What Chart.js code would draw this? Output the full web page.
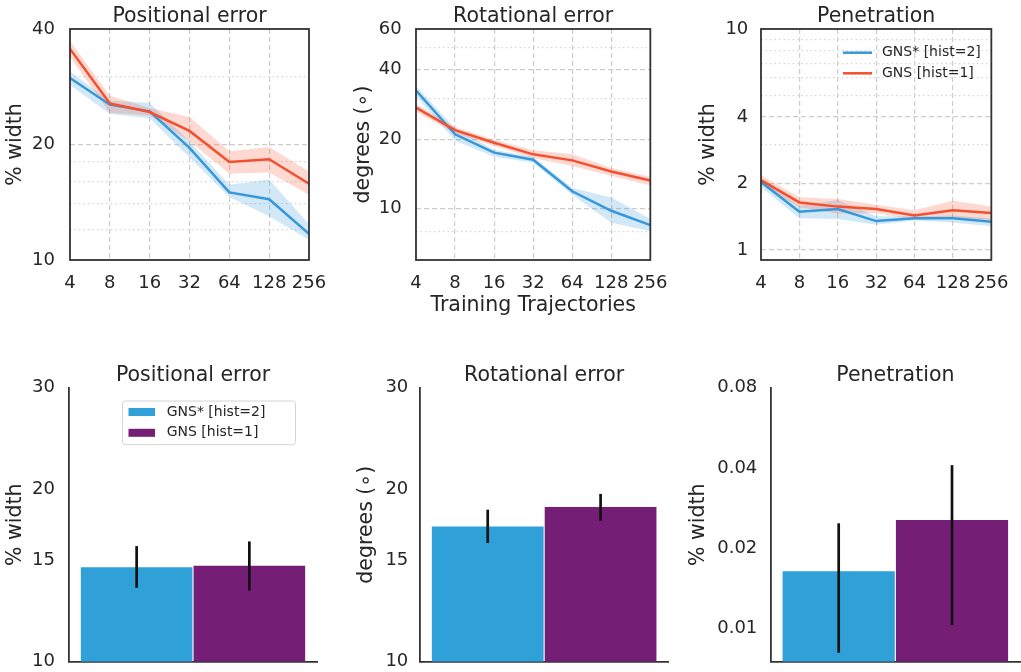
<!DOCTYPE html>
<html><head><meta charset="utf-8">
<script src="https://cdn.jsdelivr.net/npm/chart.js@4.4.1/dist/chart.umd.min.js"></script>
<style>
html,body{margin:0;padding:0;background:#fff;width:1021px;height:672px;overflow:hidden;position:relative}
canvas{position:absolute}
</style></head><body>
<canvas id="c1" width="340" height="320" style="left:0px;top:0px"></canvas>
<canvas id="c2" width="340" height="320" style="left:340px;top:0px"></canvas>
<canvas id="c3" width="341" height="320" style="left:680px;top:0px"></canvas>
<canvas id="c4" width="340" height="332" style="left:0px;top:340px"></canvas>
<canvas id="c5" width="340" height="332" style="left:340px;top:340px"></canvas>
<canvas id="c6" width="341" height="332" style="left:680px;top:340px"></canvas>
<script>
// ---------- data ----------
const trajectories = ['4', '8', '16', '32', '64', '128', '256'];
const models = ['GNS* [hist=2]', 'GNS [hist=1]'];

// Positional error (% width)
const posStar   = [29.8, 25.4, 24.4, 19.6, 15.0, 14.4, 11.7];
const posStarLo = [28.6, 24.0, 23.4, 18.5, 14.6, 13.0, 11.3];
const posStarHi = [31.0, 26.0, 25.7, 20.4, 15.7, 16.2, 12.4];
const posOne    = [35.5, 25.6, 24.3, 21.7, 18.0, 18.3, 15.8];
const posOneLo  = [33.8, 24.2, 23.8, 20.4, 16.8, 16.9, 14.8];
const posOneHi  = [37.2, 26.8, 24.9, 23.6, 19.2, 19.7, 17.0];

// Rotational error (degrees)
const rotStar   = [32.5, 21.0, 17.5, 16.3, 11.9, 9.8, 8.5];
const rotStarLo = [30.8, 19.7, 16.8, 15.8, 11.5, 8.7, 8.0];
const rotStarHi = [34.0, 22.3, 18.0, 16.8, 12.3, 11.2, 9.05];
const rotOne    = [27.4, 21.9, 19.3, 17.2, 16.2, 14.5, 13.25];
const rotOneLo  = [26.3, 21.2, 18.7, 16.6, 15.3, 13.9, 12.6];
const rotOneHi  = [28.4, 22.6, 19.9, 17.9, 17.2, 15.0, 13.75];

// Penetration (% width)
const penStar   = [2.03, 1.49, 1.53, 1.35, 1.39, 1.39, 1.34];
const penStarLo = [1.92, 1.39, 1.38, 1.30, 1.36, 1.33, 1.28];
const penStarHi = [2.09, 1.58, 1.68, 1.42, 1.42, 1.43, 1.39];
const penOne    = [2.07, 1.64, 1.57, 1.53, 1.43, 1.51, 1.47];
const penOneLo  = [1.97, 1.56, 1.46, 1.47, 1.37, 1.39, 1.37];
const penOneHi  = [2.18, 1.73, 1.70, 1.60, 1.51, 1.67, 1.57];

// Bar summaries (GNS*, GNS)
const posBar   = [14.6, 14.7];
const posBarLo = [13.45, 13.3];
const posBarHi = [15.9, 16.2];
const rotBar   = [17.2, 18.6];
const rotBarLo = [16.1, 17.6];
const rotBarHi = [18.4, 19.6];
const penBar   = [0.0164, 0.0255];
const penBarLo = [0.0081, 0.0103];
const penBarHi = [0.0248, 0.041];

// tick sets
const posTicks = [10, 20, 40];        const posMinor = [12, 14, 16, 18, 30];
const rotTicks = [10, 20, 40, 60];    const rotMinor = [8, 30, 50];
const penTicks = [1, 2, 4, 10];       const penMinor = [3, 5, 6, 7, 8, 9];
const barTicks = [10, 15, 20, 30];
const penBarTicks = [0.01, 0.02, 0.04, 0.08];

// ---------- styling ----------
const INK = '#262626';
const BLUE = '#3498db', RED = '#f4502f';
const BLUE_BAND = 'rgba(52,152,219,0.22)', RED_BAND = 'rgba(244,80,47,0.22)';
const BAR_BLUE = '#2fa1d8', BAR_PURPLE = '#741f75';
const FONT = "'DejaVu Sans', sans-serif";
const TICK_SIZE = 18;
Chart.defaults.font.family = FONT;
Chart.defaults.color = INK;

const framePlugin = {
  id: 'frame',
  afterDraw(chart) {
    const a = chart.chartArea, ctx = chart.ctx;
    ctx.save();
    ctx.strokeStyle = '#333';
    ctx.lineWidth = 1.8;
    ctx.strokeRect(a.left, a.top, a.right - a.left, a.bottom - a.top);
    ctx.restore();
  }
};

const legendPlugin = {
  id: 'customLegend',
  afterDraw(chart, args, o) {
    if (!o || !o.display) return;
    const ctx = chart.ctx;
    ctx.save();
    if (o.frame) {
      const f = o.frame;
      ctx.beginPath();
      ctx.roundRect(f.x, f.y, f.w, f.h, 3);
      ctx.fillStyle = 'rgba(255,255,255,0.85)';
      ctx.fill();
      ctx.strokeStyle = '#d4d4d4';
      ctx.lineWidth = 1;
      ctx.stroke();
    }
    o.items.forEach((it, i) => {
      const y = o.y0 + i * o.dy;
      if (o.kind === 'line') {
        ctx.strokeStyle = it.color;
        ctx.lineWidth = 2.5;
        ctx.beginPath();
        ctx.moveTo(o.x0, y);
        ctx.lineTo(o.x1, y);
        ctx.stroke();
      } else {
        ctx.fillStyle = it.color;
        ctx.fillRect(o.x0, y - 4, o.x1 - o.x0, 8);
      }
      ctx.fillStyle = INK;
      ctx.font = '14px ' + FONT;
      ctx.textBaseline = 'middle';
      ctx.textAlign = 'left';
      ctx.fillText(it.label, o.textX, y);
    });
    ctx.restore();
  }
};

const errorBarPlugin = {
  id: 'errorBars',
  afterDatasetsDraw(chart, args, o) {
    const ys = chart.scales.y, ctx = chart.ctx;
    const bars = chart.getDatasetMeta(0).data;
    ctx.save();
    ctx.strokeStyle = '#111';
    ctx.lineWidth = 2.7;
    o.lo.forEach((lo, i) => {
      const x = bars[i].x;
      ctx.beginPath();
      ctx.moveTo(x, ys.getPixelForValue(lo));
      ctx.lineTo(x, ys.getPixelForValue(o.hi[i]));
      ctx.stroke();
    });
    ctx.restore();
  }
};

function band(hi, lo, color) {
  return [
    {data: hi, borderColor: 'rgba(0,0,0,0)', backgroundColor: color, fill: '+1', pointRadius: 0, borderWidth: 1, tension: 0},
    {data: lo, borderColor: 'rgba(0,0,0,0)', backgroundColor: color, fill: false, pointRadius: 0, borderWidth: 1, tension: 0}
  ];
}
function mean(label, data, color) {
  return {label, data, borderColor: color, backgroundColor: color, borderWidth: 2.5, pointRadius: 0, fill: false, tension: 0};
}

function logTicks(major, minor) {
  const all = major.concat(minor).sort((a, b) => a - b);
  return s => { s.ticks = all.map(v => ({value: v, major: major.includes(v)})); };
}

function makeLine(id, c) {
  new Chart(document.getElementById(id), {
    type: 'line',
    data: {
      labels: trajectories,
      datasets: [
        mean(models[1], c.one, RED),
        mean(models[0], c.star, BLUE),
        ...band(c.oneHi, c.oneLo, RED_BAND),
        ...band(c.starHi, c.starLo, BLUE_BAND)
      ]
    },
    options: {
      responsive: false, animation: false, events: [],
      layout: {padding: {left: 0, top: 0, right: c.padRight, bottom: 0}},
      plugins: {
        legend: {display: false}, tooltip: {enabled: false},
        title: {display: true, text: c.title, fullSize: false, color: INK,
          font: {size: 20.5, weight: 'normal', lineHeight: 1.1}, padding: {top: 5.8, bottom: 0.65}},
        customLegend: c.legend || {display: false}
      },
      scales: {
        x: {
          type: 'category', offset: false,
          grid: {display: true, drawTicks: false, color: '#cdcdcd', lineWidth: 1.2},
          border: {display: false, dash: [5, 3]},
          ticks: {autoSkip: false, maxRotation: 0, minRotation: 0, padding: 12.5, font: {size: TICK_SIZE}, color: INK},
          title: c.xTitle ? {display: true, text: c.xTitle, color: INK, font: {size: 20.5}, padding: {top: 0, bottom: 2.4}} : {display: false},
          afterFit(s) { s.height = 60; }
        },
        y: {
          type: 'logarithmic', min: c.min, max: c.max, bounds: 'data',
          afterBuildTicks: logTicks(c.major, c.minor),
          ticks: {autoSkip: false, padding: c.yTickPad, font: {size: TICK_SIZE}, color: INK,
            callback: v => c.major.includes(v) ? String(v) : ''},
          grid: {drawTicks: false, lineWidth: 1.2,
            color: ctx => (ctx.tick && !c.major.includes(ctx.tick.value)) ? '#d6d6d6' : '#cdcdcd'},
          border: {display: false,
            dash: ctx => (ctx.tick && !c.major.includes(ctx.tick.value)) ? [1.5, 3] : [5, 3]},
          title: {display: true, text: c.yTitle, color: INK, font: {size: 20.5}, padding: {top: c.yTitlePad, bottom: 0}},
          afterFit(s) { s.width = c.yWidth; s.paddingTop = 0; s.paddingBottom = 0; }
        }
      }
    },
    plugins: [framePlugin, legendPlugin]
  });
}

function makeBar(id, c) {
  new Chart(document.getElementById(id), {
    type: 'bar',
    data: {
      datasets: [{
        label: c.title,
        data: c.vals.map((v, i) => ({x: i, y: v})),
        backgroundColor: [BAR_BLUE, BAR_PURPLE],
        borderWidth: 0, categoryPercentage: 1, barPercentage: 0.99
      }]
    },
    options: {
      responsive: false, animation: false, events: [],
      layout: {padding: {left: 0, top: 0, right: c.padRight, bottom: 0}},
      plugins: {
        legend: {display: false}, tooltip: {enabled: false},
        title: {display: true, text: c.title, fullSize: false, color: INK,
          font: {size: 20.5, weight: 'normal', lineHeight: 1.2}, padding: {top: 23.2, bottom: 0}},
        errorBars: {lo: c.lo, hi: c.hi},
        customLegend: c.legend || {display: false}
      },
      scales: {
        x: {
          type: 'linear', min: -0.6, max: 1.6, offset: false,
          afterBuildTicks(s) { s.ticks = [{value: 0}, {value: 1}]; },
          ticks: {display: false},
          grid: {display: false, drawTicks: false},
          border: {display: true, color: '#333', width: 1.8},
          afterFit(s) { s.height = 10.3; s.paddingLeft = 0; s.paddingRight = 0; }
        },
        y: {
          type: 'logarithmic', min: c.min, max: c.max, bounds: 'data',
          afterBuildTicks: logTicks(c.ticks, []),
          ticks: {autoSkip: false, padding: c.yTickPad, font: {size: TICK_SIZE}, color: INK,
            callback: v => String(v)},
          grid: {display: false, drawTicks: false},
          border: {display: true, color: '#333', width: 1.8},
          title: {display: true, text: c.yTitle, color: INK, font: {size: 20.5}, padding: {top: c.yTitlePad, bottom: 0}},
          afterFit(s) { s.width = c.yWidth; s.paddingTop = 0; s.paddingBottom = 0; }
        }
      }
    },
    plugins: [errorBarPlugin, legendPlugin]
  });
}

makeLine('c1', {title: 'Positional error', yTitle: '% width', star: posStar, starLo: posStarLo, starHi: posStarHi,
  one: posOne, oneLo: posOneLo, oneHi: posOneHi, min: 10, max: 40, major: posTicks, minor: posMinor,
  yWidth: 70, padRight: 31, yTitlePad: 3.7, yTickPad: 15});
makeLine('c2', {title: 'Rotational error', yTitle: 'degrees (\u2218)', xTitle: 'Training Trajectories',
  star: rotStar, starLo: rotStarLo, starHi: rotStarHi, one: rotOne, oneLo: rotOneLo, oneHi: rotOneHi,
  min: 6, max: 60, major: rotTicks, minor: rotMinor, yWidth: 76, padRight: 26.3, yTitlePad: 11, yTickPad: 14.3});
makeLine('c3', {title: 'Penetration', yTitle: '% width', star: penStar, starLo: penStarLo, starHi: penStarHi,
  one: penOne, oneLo: penOneLo, oneHi: penOneHi, min: 0.9, max: 10, major: penTicks, minor: penMinor,
  yWidth: 81, padRight: 20.3, yTitlePad: 16, yTickPad: 12.7,
  legend: {display: true, kind: 'line', x0: 163, x1: 192, textX: 202, y0: 52.7, dy: 20.6,
    items: [{label: models[0], color: BLUE}, {label: models[1], color: RED}]}});

makeBar('c4', {title: 'Positional error', yTitle: '% width', vals: posBar, lo: posBarLo, hi: posBarHi,
  min: 10, max: 30, ticks: barTicks, yWidth: 69, padRight: 23, yTitlePad: 3.7, yTickPad: 14,
  legend: {display: true, kind: 'box', x0: 128.5, x1: 155, textX: 166.7, y0: 72, dy: 20.8,
    frame: {x: 122.5, y: 61, w: 173, h: 43.7},
    items: [{label: models[0], color: BAR_BLUE}, {label: models[1], color: BAR_PURPLE}]}});
makeBar('c5', {title: 'Rotational error', yTitle: 'degrees (\u2218)', vals: rotBar, lo: rotBarLo, hi: rotBarHi,
  min: 10, max: 30, ticks: barTicks, yWidth: 80, padRight: 11.7, yTitlePad: 14.4, yTickPad: 11.7});
makeBar('c6', {title: 'Penetration', yTitle: '% width', vals: penBar, lo: penBarLo, hi: penBarHi,
  min: 0.0075, max: 0.08, ticks: penBarTicks, yWidth: 90.7, padRight: 1, yTitlePad: 6.7, yTickPad: 13.4});
</script>
</body></html>
